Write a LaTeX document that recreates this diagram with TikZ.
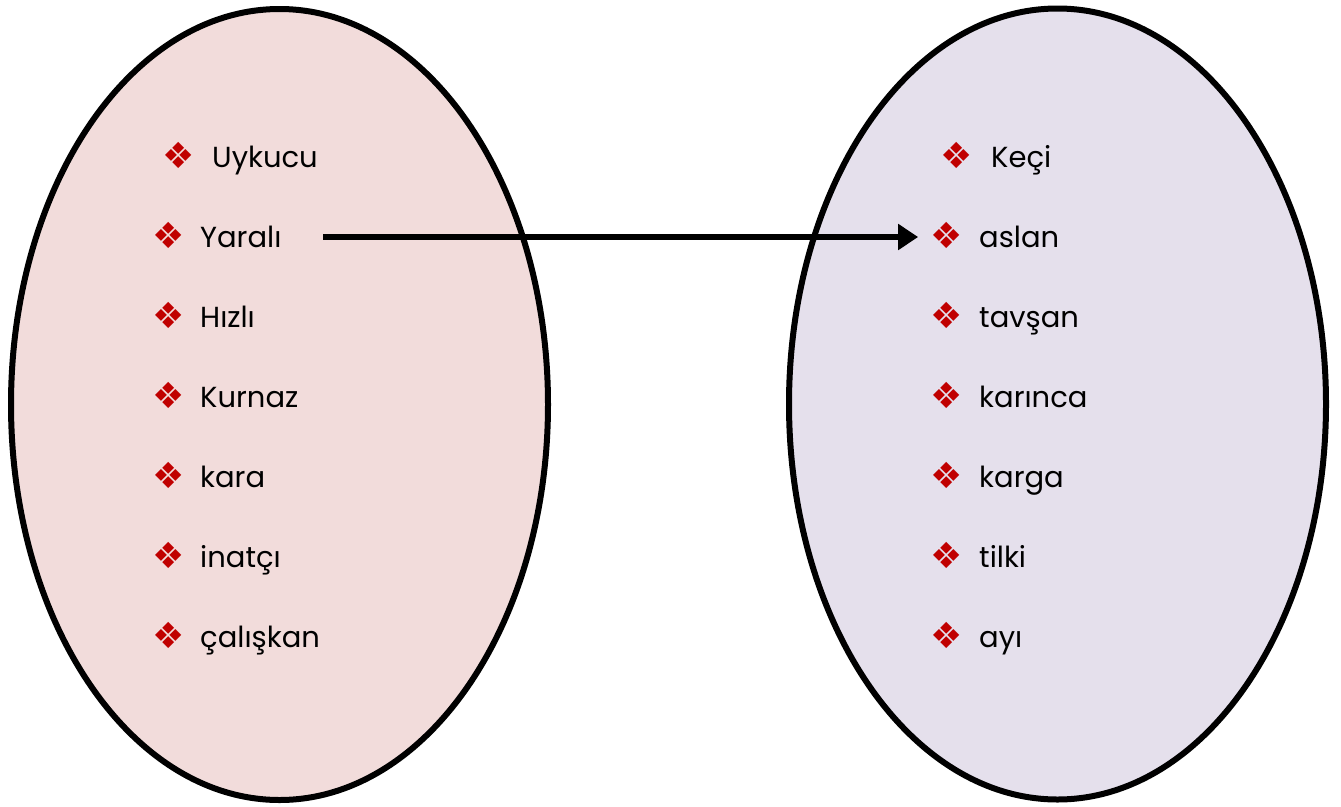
\documentclass[tikz,border=0pt]{standalone}
\usepackage{fontspec}
\setmainfont{Poppins}
\newfontfamily\isaretfont{DejaVu Sans}
\usetikzlibrary{arrows.meta,shapes.geometric}
\definecolor{pembe}{HTML}{F2DCDB}
\definecolor{lila}{HTML}{E5E0EC}
\definecolor{koyukirmizi}{HTML}{C00000}
\tikzstyle{kume} = [ellipse, draw=black, line width=6pt, minimum width=537pt, minimum height=791pt, inner sep=0pt]
\tikzstyle{madde} = [inner sep=0pt, text=koyukirmizi, font=\isaretfont\fontsize{36}{36}\selectfont]
\tikzstyle{kelime} = [inner sep=0pt, anchor=base west, font=\fontsize{29}{29}\selectfont]
\tikzstyle{ok} = [-{Triangle[length=20pt,width=25pt]}, line width=6pt, draw]

\begin{document}
\begin{tikzpicture}[x=1pt,y=-1pt]
                    \useasboundingbox (0,0) rectangle (1341,806);
                    \node[kume, fill=pembe] (sol) at (279.5,404.5) {};
                    \node[kume, fill=lila] (sag) at (1057.5,404) {};

                    % sol kume: sifatlar
                    \node[madde] (uykucu-m) at (178.5,155) {❖};
                    \node[kelime] (uykucu) at (212,167) {Uykucu};
                    \node[madde] (yarali-m) at (169,235) {❖};
                    \node[kelime] (yarali) at (200,247) {Yaralı};
                    \node[madde] (hizli-m) at (169,315) {❖};
                    \node[kelime] (hizli) at (200,327) {Hızlı};
                    \node[madde] (kurnaz-m) at (169,395) {❖};
                    \node[kelime] (kurnaz) at (200,407) {Kurnaz};
                    \node[madde] (kara-m) at (169,475) {❖};
                    \node[kelime] (kara) at (200,487) {kara};
                    \node[madde] (inatci-m) at (169,555) {❖};
                    \node[kelime] (inatci) at (200,567) {inatçı};
                    \node[madde] (caliskan-m) at (169,635) {❖};
                    \node[kelime] (caliskan) at (200,647) {çalışkan};

                    % sag kume: hayvanlar
                    \node[madde] (keci-m) at (956.5,155) {❖};
                    \node[kelime] (keci) at (991,167) {Keçi};
                    \node[madde] (aslan-m) at (946.5,235) {❖};
                    \node[kelime] (aslan) at (979,247) {aslan};
                    \node[madde] (tavsan-m) at (946.5,315) {❖};
                    \node[kelime] (tavsan) at (979,327) {tavşan};
                    \node[madde] (karinca-m) at (946.5,395) {❖};
                    \node[kelime] (karinca) at (979,407) {karınca};
                    \node[madde] (karga-m) at (946.5,475) {❖};
                    \node[kelime] (karga) at (979,487) {karga};
                    \node[madde] (tilki-m) at (946.5,555) {❖};
                    \node[kelime] (tilki) at (979,567) {tilki};
                    \node[madde] (ayi-m) at (946.5,635) {❖};
                    \node[kelime] (ayi) at (979,647) {ayı};

                    \coordinate (baslangic) at (323,237);
                    \draw[ok, shorten >=12pt] (baslangic) -- (baslangic -| aslan-m.west);
                \end{tikzpicture}
\end{document}
